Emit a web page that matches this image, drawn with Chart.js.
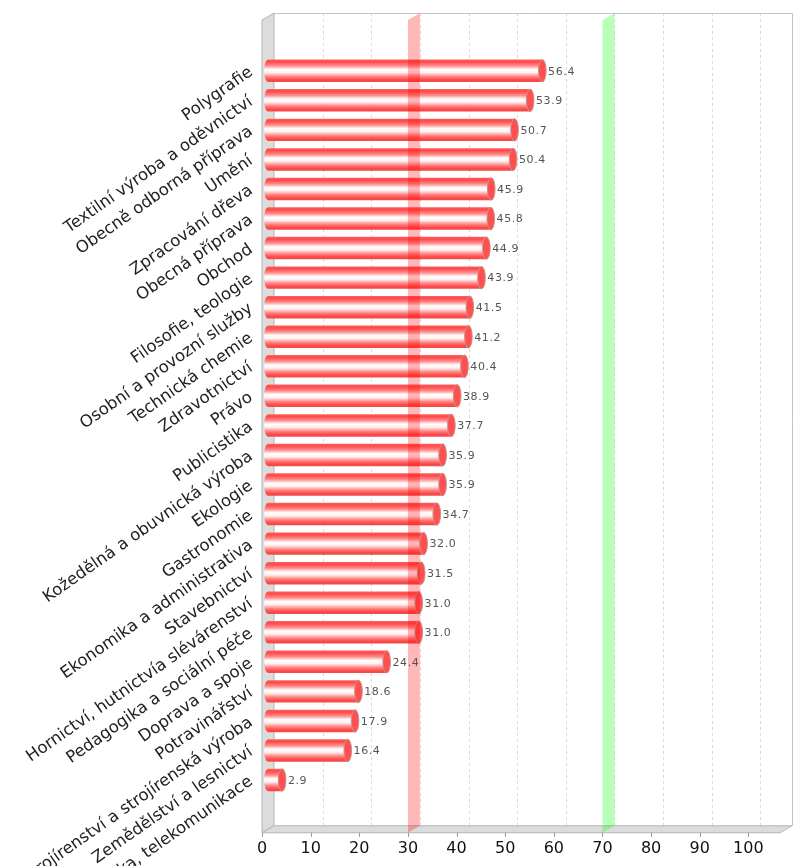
<!DOCTYPE html>
<html>
<head>
<meta charset="utf-8">
<script src="https://cdn.jsdelivr.net/npm/chart.js@4.4.1/dist/chart.umd.min.js"></script>
<style>
  html, body { margin: 0; padding: 0; background: #fff; }
  #wrap { width: 800px; height: 866px; }
</style>
</head>
<body>
<div id="wrap"><canvas id="myChart" width="800" height="866"></canvas></div>
<script>
const labels = [
  "Polygrafie",
  "Textilní výroba a oděvnictví",
  "Obecně odborná příprava",
  "Umění",
  "Zpracování dřeva",
  "Obecná příprava",
  "Obchod",
  "Filosofie, teologie",
  "Osobní a provozní služby",
  "Technická chemie",
  "Zdravotnictví",
  "Právo",
  "Publicistika",
  "Kožedělná a obuvnická výroba",
  "Ekologie",
  "Gastronomie",
  "Ekonomika a administrativa",
  "Stavebnictví",
  "Hornictví, hutnictvía slévárenství",
  "Pedagogika a sociální péče",
  "Doprava a spoje",
  "Potravinářství",
  "Strojírenství a strojírenská výroba",
  "Zemědělství a lesnictví",
  "Elektrotechnika, telekomunikace"
];
const values = [56.4, 53.9, 50.7, 50.4, 45.9, 45.8, 44.9, 43.9, 41.5, 41.2, 40.4, 38.9, 37.7,
                35.9, 35.9, 34.7, 32.0, 31.5, 31.0, 31.0, 24.4, 18.6, 17.9, 16.4, 2.9];
const xTicks = [0, 10, 20, 30, 40, 50, 60, 70, 80, 90, 100];
const markerValues = [30, 70];
const markerColors = ["rgba(255,0,0,0.28)", "rgba(0,255,0,0.28)"];

const BAR_PCT = 0.76;
const DX = 6, DY = 3.5;   // half of the 3d depth
const CAP_RX = 3.8;

// cylinder shading, one gradient per bar
function barFill(context) {
  const chart = context.chart;
  const yScale = chart.scales.y;
  if (!yScale || context.dataIndex === undefined) return "#ff5050";
  const cy = yScale.getPixelForValue(context.dataIndex);
  const half = yScale.height / labels.length * BAR_PCT / 2;
  if (!isFinite(cy) || !isFinite(half) || half <= 0) return "#ff5050";
  const g = chart.ctx.createLinearGradient(0, cy - half, 0, cy + half);
  g.addColorStop(0, "#ff6060");
  g.addColorStop(0.1, "#ff4848");
  g.addColorStop(0.28, "#ff8c8c");
  g.addColorStop(0.44, "#ffffff");
  g.addColorStop(0.58, "#fff0f0");
  g.addColorStop(0.76, "#ff8282");
  g.addColorStop(0.9, "#ff4848");
  g.addColorStop(1, "#ee4a4a");
  return g;
}

const box3d = {
  id: "box3d",
  beforeDatasetsDraw(chart) {
    const ctx = chart.ctx, a = chart.chartArea, x2 = chart.scales.x2;
    const midTop = a.top - 39.5, midFloor = a.bottom + 34.5;
    const bx0 = a.left + DX, bx1 = a.right + DX, by0 = midTop - DY, by1 = midFloor - DY;
    const fx0 = a.left - DX, fx1 = a.right - DX, fy0 = midTop + DY, fy1 = midFloor + DY;
    ctx.save();
    // back grid
    ctx.strokeStyle = "#dadada";
    ctx.lineWidth = 1;
    ctx.setLineDash([3, 3]);
    xTicks.forEach(v => {
      if (v === 0) return;
      const x = Math.round(x2.getPixelForValue(v) + 2 * DX) + 0.5;
      ctx.beginPath(); ctx.moveTo(x, by0); ctx.lineTo(x, by1); ctx.stroke();
    });
    ctx.setLineDash([]);
    ctx.strokeStyle = "#c4c4c4";
    ctx.beginPath();
    ctx.moveTo(bx0, by0 + 0.5); ctx.lineTo(bx1 + 0.5, by0 + 0.5); ctx.lineTo(bx1 + 0.5, by1);
    ctx.stroke();
    // wall + floor
    ctx.fillStyle = "#dcdcdc";
    ctx.strokeStyle = "#b4b4b4";
    ctx.beginPath();
    ctx.moveTo(fx0, fy0); ctx.lineTo(bx0, by0); ctx.lineTo(bx0, by1); ctx.lineTo(fx0, fy1); ctx.closePath();
    ctx.fill(); ctx.stroke();
    ctx.beginPath();
    ctx.moveTo(fx0, fy1); ctx.lineTo(bx0, by1); ctx.lineTo(bx1, by1); ctx.lineTo(fx1, fy1); ctx.closePath();
    ctx.fill(); ctx.stroke();
    // tick marks on the front edge
    ctx.strokeStyle = "#999";
    xTicks.forEach(v => {
      const x = Math.round(x2.getPixelForValue(v)) + 0.5;
      ctx.beginPath(); ctx.moveTo(x, fy1); ctx.lineTo(x, fy1 + 4); ctx.stroke();
    });
    ctx.restore();
  },
  afterDatasetsDraw(chart) {
    const ctx = chart.ctx, a = chart.chartArea, x2 = chart.scales.x2;
    const meta = chart.getDatasetMeta(0);
    ctx.save();
    meta.data.forEach((bar, i) => {
      const p = bar.getProps(["x", "y", "base", "height"], true);
      const ry = p.height / 2;
      ctx.beginPath();
      ctx.ellipse(p.base, p.y, CAP_RX, ry, 0, Math.PI / 2, Math.PI * 1.5);
      ctx.closePath();
      ctx.fillStyle = bar.options.backgroundColor;
      ctx.fill();
      ctx.beginPath();
      ctx.ellipse(p.x, p.y, CAP_RX, ry, 0, 0, Math.PI * 2);
      ctx.fillStyle = "#ff4f4f";
      ctx.fill();
      ctx.strokeStyle = "#c99090";
      ctx.lineWidth = 1;
      ctx.stroke();
    });
    // interval markers at 30 and 70
    const midTop = a.top - 39.5, midFloor = a.bottom + 34.5;
    markerValues.forEach((v, k) => {
      const fx = x2.getPixelForValue(v);
      ctx.beginPath();
      ctx.moveTo(fx, midFloor + DY);
      ctx.lineTo(fx, midTop + DY);
      ctx.lineTo(fx + 2 * DX, midTop - DY);
      ctx.lineTo(fx + 2 * DX, midFloor - DY);
      ctx.closePath();
      ctx.fillStyle = markerColors[k];
      ctx.fill();
    });
    // value labels
    ctx.font = '11px "DejaVu Sans"';
    ctx.letterSpacing = "0.6px";
    ctx.fillStyle = "#555";
    ctx.textAlign = "left";
    ctx.textBaseline = "middle";
    meta.data.forEach((bar, i) => {
      const p = bar.getProps(["x", "y"], true);
      ctx.fillText(values[i].toFixed(1), p.x + CAP_RX + 2, p.y + 1);
    });
    ctx.restore();
  }
};

const ctx = document.getElementById("myChart").getContext("2d");

const config = {
  type: "bar",
  data: {
    labels,
    datasets: [{
      data: values,
      backgroundColor: barFill,
      borderWidth: 0,
      barPercentage: BAR_PCT,
      categoryPercentage: 1
    }]
  },
  options: {
    indexAxis: "y",
    responsive: false,
    animation: false,
    devicePixelRatio: 1,
    layout: { padding: { top: 56, right: 14, bottom: 8, left: 0 } },
    plugins: { legend: { display: false }, tooltip: { enabled: false } },
    scales: {
      x: { type: "linear", min: 0, max: 106.5, display: false },
      x2: {
        // front plane of the 3d box: shifted half the depth to the left
        type: "linear",
        position: "bottom",
        min: 1.235,
        max: 107.735,
        afterBuildTicks: (scale) => { scale.ticks = xTicks.map(v => ({ value: v })); },
        grid: { display: true, drawOnChartArea: false, drawTicks: true, tickLength: 44, color: "rgba(0,0,0,0)" },
        border: { display: false },
        ticks: {
          padding: 0,
          color: "#111",
          font: { family: "DejaVu Sans", size: 16 }
        }
      },
      y: {
        type: "category",
        grid: { display: false, drawTicks: false },
        border: { display: false },
        afterFit: (scale) => { scale.width = 268; },
        ticks: {
          autoSkip: false,
          minRotation: 35,
          maxRotation: 35,
          padding: 17,
          color: "#222",
          font: { family: "DejaVu Sans", size: 16.5 }
        }
      }
    }
  },
  plugins: [box3d]
};

const myChart = new Chart(ctx, config);
</script>
</body>
</html>
